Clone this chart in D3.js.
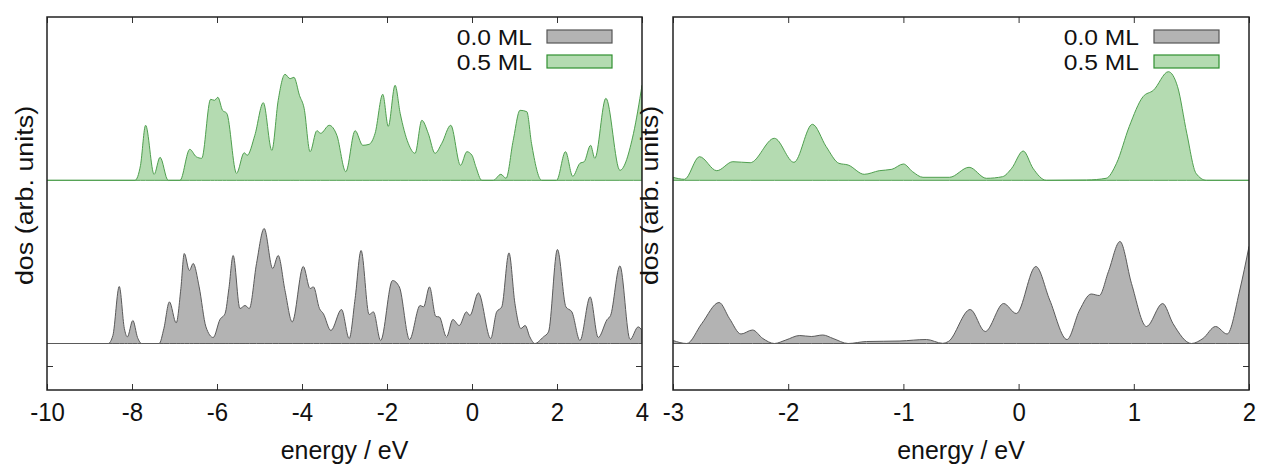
<!DOCTYPE html>
<html>
<head>
<meta charset="utf-8">
<script src="https://cdn.jsdelivr.net/npm/d3@7"></script>
<style>
  body { margin: 0; background: #fff; }
  text { font-family: "Liberation Sans", Arial, sans-serif; fill: #111; }
</style>
</head>
<body>
<svg id="chart" width="1263" height="466"></svg>
<script>
// series names for the legend
const seriesNames = ['0.0 ML', '0.5 ML'];

// x ranges and tick values of the two panels
const wideRange = [-10, 4];
const wideTicks = [-10, -8, -6, -4, -2, 0, 2, 4];
const zoomRange = [-3, 2];
const zoomTicks = [-3, -2, -1, 0, 1, 2];

// vertical offset of each curve (arb. units)
const seriesOffsets = [2.25, 18.57];

// left panel, [energy, dos]
const wideGrey = [[-10,0],[-8.56,0],[-8.45,0.8],[-8.30,5.7],[-8.18,1.5],[-8.11,0.66],[-7.98,2.3],[-7.87,0.6],[-7.77,0],
  [-7.36,0],[-7.25,1.5],[-7.12,4.16],[-6.96,2.06],[-6.85,5.5],[-6.77,9.0],[-6.65,7.3],[-6.56,8.0],[-6.42,5.66],
  [-6.26,1.66],[-6.09,0.6],[-5.93,2.4],[-5.81,3.0],[-5.72,5.5],[-5.62,8.8],[-5.46,3.5],[-5.34,3.8],[-5.24,3.5],
  [-5.07,8.0],[-4.89,11.5],[-4.69,7.5],[-4.56,8.8],[-4.40,5.3],[-4.23,2.16],[-3.97,7.7],[-3.81,5.5],[-3.73,5.66],
  [-3.59,3.5],[-3.50,3.0],[-3.32,1.3],[-3.07,3.4],[-2.89,0.5],[-2.75,4.5],[-2.61,9.3],[-2.42,2.9],[-2.32,3.16],
  [-2.15,0.3],[-1.87,6.3],[-1.71,5.66],[-1.47,0.4],[-1.22,3.8],[-1.14,3.66],[-1.00,5.66],[-0.85,2.7],[-0.77,2.66],
  [-0.60,0.66],[-0.45,2.4],[-0.30,1.8],[-0.13,3.16],[-0.05,2.8],[0.15,5.06],[0.44,0.5],[0.58,3.16],[0.70,3.66],
  [0.87,9.06],[1.01,4.0],[1.15,1.5],[1.25,1.8],[1.36,0.66],[1.48,0],[1.68,0.66],[1.80,1.16],[2.01,9.4],[2.21,3.66],
  [2.35,3.16],[2.54,0.3],[2.78,4.66],[2.97,0.6],[3.18,2.4],[3.26,2.8],[3.48,7.76],[3.72,0.4],[3.91,1.66],[4.0,1.3]];

const wideGreen = [[-10,0],[-7.93,0],[-7.80,1.5],[-7.68,5.5],[-7.48,0.6],[-7.34,2.3],[-7.15,0],[-6.87,0],[-6.64,3.1],
  [-6.49,2.36],[-6.36,2.2],[-6.15,8.1],[-6.06,8.0],[-5.98,8.3],[-5.87,7.0],[-5.77,6.7],[-5.54,0.7],[-5.36,2.76],
  [-5.29,2.5],[-5.11,4.5],[-4.91,7.76],[-4.71,3.0],[-4.56,8.0],[-4.40,10.6],[-4.28,10.16],[-4.19,10.3],[-4.06,8.5],
  [-3.95,7.2],[-3.81,2.86],[-3.65,4.96],[-3.56,4.7],[-3.36,5.5],[-3.18,4.5],[-2.97,0.86],[-2.75,4.96],[-2.57,3.5],
  [-2.42,3.6],[-2.28,4.7],[-2.10,8.6],[-1.97,5.4],[-1.81,9.5],[-1.69,6.7],[-1.50,3.7],[-1.34,2.7],[-1.18,6.0],
  [-1.03,4.7],[-0.87,2.7],[-0.71,3.7],[-0.50,5.5],[-0.27,1.5],[-0.12,2.86],[0.0,2.5],[0.09,1.36],[0.23,0],[0.50,0],
  [0.68,0.6],[0.80,0.2],[0.97,4.0],[1.13,7.0],[1.29,6.86],[1.40,3.7],[1.64,0],[1.99,0],[2.20,2.86],[2.37,0.4],
  [2.54,1.7],[2.64,1.86],[2.79,3.5],[2.89,2.2],[3.15,8.2],[3.48,1.0],[3.80,4.7],[4.0,9.5]];

// right panel, [energy, dos]
const zoomGrey = [[-3.0,0.3],[-2.88,0],[-2.75,2.0],[-2.60,4.1],[-2.51,2.5],[-2.41,0.95],[-2.31,1.35],[-2.22,0.5],
  [-2.12,0],[-2.02,0.35],[-1.90,0.8],[-1.80,0.7],[-1.70,0.85],[-1.61,0.5],[-1.48,0],[-1.32,0.2],[-1.03,0.25],
  [-0.80,0.4],[-0.66,0.02],[-0.61,0.2],[-0.42,3.4],[-0.29,1.2],[-0.13,4.0],[-0.02,3.0],[0.15,7.7],[0.27,4.35],
  [0.42,0.4],[0.53,3.35],[0.63,4.95],[0.70,4.8],[0.78,7.2],[0.88,10.2],[0.98,6.0],[1.11,1.7],[1.25,4.0],[1.34,2.0],
  [1.50,0],[1.60,0.5],[1.71,1.7],[1.81,0.95],[1.92,5.35],[2.0,9.7]];

const zoomGreen = [[-3.0,0.3],[-2.90,0.1],[-2.77,2.36],[-2.62,0.96],[-2.48,1.86],[-2.33,1.76],[-2.12,4.2],[-1.95,1.8],
  [-1.79,5.6],[-1.67,3.36],[-1.56,1.7],[-1.48,1.53],[-1.34,0.6],[-1.21,0.96],[-1.10,1.1],[-1.00,1.63],[-0.92,0.86],
  [-0.83,0.3],[-0.60,0.3],[-0.43,1.3],[-0.28,0.2],[-0.14,0.36],[-0.06,1.2],[0.04,2.93],[0.125,1.2],[0.24,0],
  [0.59,0.03],[0.76,0.2],[0.85,1.7],[0.96,5.36],[1.08,8.36],[1.17,9.0],[1.30,10.86],[1.38,9.36],[1.46,4.7],
  [1.54,0.7],[1.63,0],[2.0,0]];

const fills = ['#b3b3b3', '#b4dbb1'];
const strokes = ['#5a5a5a', '#4f9f4f'];
const keyStrokes = ['#555555', '#2f8f2f'];

var svg = d3.select('#chart');
const plotTop = 17, plotBottom = 390;

// shared y scale, arbitrary units
var yScale = d3.scaleLinear()
    .domain([-2.4, 34.9])
    .range([plotBottom, plotTop]);

const panels = [
    { left: 47, right: 642, domain: wideRange, ticks: wideTicks, data: [wideGrey, wideGreen], labelX: 33 },
    { left: 673, right: 1249, domain: zoomRange, ticks: zoomTicks, data: [zoomGrey, zoomGreen], labelX: 658 }
];

panels.forEach(function (p, i) {
    var xScale = d3.scaleLinear().domain(p.domain).range([p.left, p.right]);

    var clipId = 'clip' + i;
    svg.append('clipPath').attr('id', clipId)
        .append('rect')
        .attr('x', p.left).attr('y', plotTop)
        .attr('width', p.right - p.left).attr('height', plotBottom - plotTop);

    var g = svg.append('g').attr('clip-path', 'url(#' + clipId + ')');

    // filled dos curves
    p.data.forEach(function (series, k) {
        var off = seriesOffsets[k];
        var area = d3.area()
            .x(function (d) { return xScale(d[0]); })
            .y0(yScale(off))
            .y1(function (d) { return yScale(d[1] + off); })
            .curve(d3.curveMonotoneX);
        g.append('path')
            .datum(series)
            .attr('d', area)
            .attr('fill', fills[k])
            .attr('stroke', strokes[k])
            .attr('stroke-width', 1)
            .attr('stroke-linejoin', 'round');
    });

    // x axes, ticks inward on bottom and top
    svg.append('g')
        .attr('transform', `translate(0,${plotBottom})`)
        .call(d3.axisBottom(xScale).tickValues(p.ticks).tickSize(-6).tickPadding(14).tickFormat(d3.format('d')))
        .call(function (a) {
            a.select('.domain').remove();
            a.selectAll('line').attr('stroke', '#333');
            a.selectAll('text').attr('font-size', 24).attr('font-family', '"Liberation Sans", Arial, sans-serif')
                .attr('transform', 'scale(1,1.08)').attr('dy', '0.6em')
                .text(function (d) { return d < 0 ? '-' + Math.abs(d) : d; });
        });
    svg.append('g')
        .attr('transform', `translate(0,${plotTop})`)
        .call(d3.axisTop(xScale).tickValues(p.ticks).tickSize(-6).tickFormat(''))
        .call(function (a) {
            a.select('.domain').remove();
            a.selectAll('line').attr('stroke', '#333');
        });

    // y axes: single unlabeled tick at 0
    svg.append('g')
        .attr('transform', `translate(${p.left},0)`)
        .call(d3.axisLeft(yScale).tickValues([0]).tickSize(-6).tickFormat(''))
        .call(function (a) { a.select('.domain').remove(); a.selectAll('line').attr('stroke', '#333'); });
    svg.append('g')
        .attr('transform', `translate(${p.right},0)`)
        .call(d3.axisRight(yScale).tickValues([0]).tickSize(-6).tickFormat(''))
        .call(function (a) { a.select('.domain').remove(); a.selectAll('line').attr('stroke', '#333'); });

    // frame
    svg.append('rect')
        .attr('x', p.left).attr('y', plotTop)
        .attr('width', p.right - p.left).attr('height', plotBottom - plotTop)
        .attr('fill', 'none').attr('stroke', '#222').attr('stroke-width', 1.5);

    // legend
    seriesNames.forEach(function (name, k) {
        var ly = 30 + k * 25;
        svg.append('text')
            .attr('transform', `translate(${p.right - 110},${ly + 14.5}) scale(1.12,1)`)
            .attr('text-anchor', 'end')
            .attr('font-size', 22)
            .text(name);
        svg.append('rect')
            .attr('x', p.right - 95).attr('y', ly)
            .attr('width', 65).attr('height', 13)
            .attr('fill', fills[k]).attr('stroke', keyStrokes[k]).attr('stroke-width', 1.2);
    });

    // axis titles
    svg.append('text')
        .attr('transform', `translate(${(p.left + p.right) / 2},459) scale(1.04,1.05)`)
        .attr('text-anchor', 'middle')
        .attr('font-size', 24)
        .text('energy / eV');

    svg.append('text')
        .attr('transform', `translate(${p.labelX},${(plotTop + plotBottom) / 2 - 8}) rotate(-90) scale(1.12,1)`)
        .attr('text-anchor', 'middle')
        .attr('font-size', 24)
        .text('dos (arb. units)');
});
</script>
</body>
</html>
